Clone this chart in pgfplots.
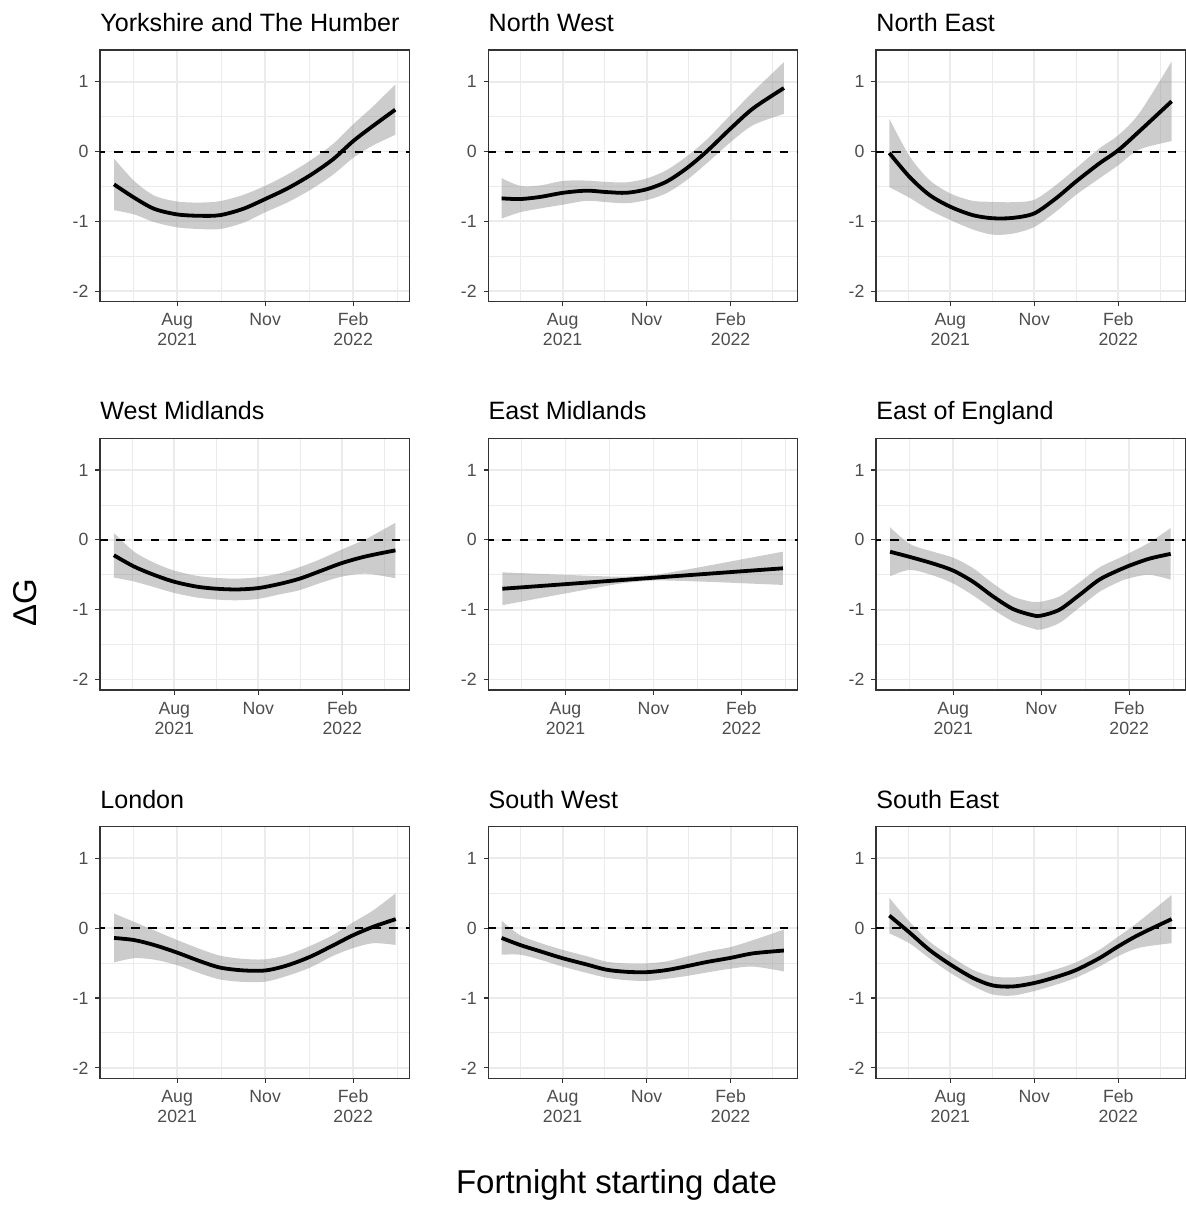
\documentclass[border=0pt]{standalone}
\usepackage{fontspec}
\setmainfont{Liberation Sans}
\usepackage{pgfplots}
\pgfplotsset{compat=1.18}
\usepackage{pgfplotstable}
\usepgfplotslibrary{fillbetween}

\definecolor{gridc}{HTML}{EBEBEB}
\definecolor{borderc}{HTML}{333333}
\definecolor{tickc}{HTML}{4D4D4D}
\definecolor{ribbonc}{HTML}{999999}

% x = days since 1 Aug 2021
\pgfplotstableread{
x y lo hi
-66 -0.47 -0.84 -0.10
-45 -0.66 -0.90 -0.42
-24 -0.82 -1.01 -0.63
0 -0.90 -1.085 -0.715
24 -0.92 -1.11 -0.73
45 -0.91 -1.11 -0.71
69 -0.82 -1.02 -0.62
92 -0.68 -0.87 -0.49
115 -0.53 -0.73 -0.33
139 -0.34 -0.55 -0.13
163 -0.11 -0.33 0.11
184 0.15 -0.09 0.39
205 0.37 0.09 0.65
228 0.60 0.24 0.96
}\tYork
\pgfplotstableread{
x y lo hi
-66.8 -0.67 -0.96 -0.38
-46.7 -0.68 -0.87 -0.49
-24.8 -0.65 -0.815 -0.485
0.7 -0.59 -0.76 -0.42
26.3 -0.56 -0.705 -0.415
48.2 -0.58 -0.725 -0.435
70.1 -0.59 -0.74 -0.44
92 -0.54 -0.695 -0.385
113.9 -0.43 -0.595 -0.265
135.8 -0.24 -0.41 -0.07
157.7 0.00 -0.17 0.17
184 0.33 0.135 0.525
208.8 0.62 0.38 0.86
242.4 0.91 0.54 1.28
}\tNW
\pgfplotstableread{
x y lo hi
-66.8 -0.02 -0.51 0.47
-44.9 -0.36 -0.66 -0.06
-23 -0.62 -0.835 -0.405
0 -0.79 -0.98 -0.60
24.5 -0.91 -1.115 -0.705
46.4 -0.955 -1.19 -0.72
68.3 -0.95 -1.175 -0.725
92 -0.885 -1.08 -0.69
115.7 -0.67 -0.86 -0.48
137.6 -0.43 -0.62 -0.24
163.2 -0.17 -0.385 0.045
184 0.02 -0.195 0.235
207 0.29 0.03 0.55
242.4 0.72 0.15 1.29
}\tNE
\pgfplotstableread{
x y lo hi
-66.2 -0.22 -0.54 0.10
-44.4 -0.38 -0.595 -0.165
-22.5 -0.50 -0.675 -0.325
0 -0.60 -0.76 -0.44
24.7 -0.67 -0.825 -0.515
46.5 -0.70 -0.855 -0.545
69 -0.71 -0.865 -0.555
92 -0.69 -0.845 -0.535
115.6 -0.63 -0.78 -0.48
137.5 -0.555 -0.72 -0.39
159.3 -0.45 -0.62 -0.28
184 -0.33 -0.525 -0.135
210.2 -0.235 -0.485 0.015
242.2 -0.15 -0.55 0.245
}\tWM
\pgfplotstableread{
x y lo hi
-66 -0.70 -0.935 -0.465
-30 -0.664 -0.843 -0.485
0 -0.634 -0.767 -0.501
30 -0.604 -0.691 -0.517
60 -0.574 -0.621 -0.527
92 -0.542 -0.582 -0.502
120 -0.514 -0.587 -0.441
150 -0.484 -0.601 -0.367
180 -0.454 -0.618 -0.290
227.4 -0.407 -0.645 -0.169
}\tEM
\pgfplotstableread{
x y lo hi
-66 -0.17 -0.52 0.18
-45.1 -0.245 -0.43 -0.06
-20.8 -0.34 -0.51 -0.17
0 -0.44 -0.625 -0.255
20.8 -0.60 -0.795 -0.405
41.7 -0.81 -0.995 -0.625
62.5 -0.99 -1.17 -0.81
83.3 -1.08 -1.27 -0.89
92 -1.085 -1.285 -0.885
111.1 -1.00 -1.19 -0.81
131.9 -0.79 -0.97 -0.61
152.8 -0.57 -0.745 -0.395
173.6 -0.43 -0.60 -0.26
184 -0.37 -0.55 -0.19
204.9 -0.27 -0.50 -0.04
227.4 -0.20 -0.57 0.17
}\tEE
\pgfplotstableread{
x y lo hi
-66 -0.14 -0.49 0.21
-45.1 -0.17 -0.43 0.09
-24.3 -0.24 -0.45 -0.03
0 -0.35 -0.53 -0.17
24.3 -0.475 -0.65 -0.30
45.1 -0.565 -0.735 -0.395
69.4 -0.605 -0.77 -0.44
92.4 -0.605 -0.765 -0.445
114.6 -0.535 -0.685 -0.385
138.9 -0.41 -0.565 -0.255
163.2 -0.245 -0.395 -0.095
184 -0.10 -0.285 0.085
204.9 0.02 -0.215 0.255
228.5 0.13 -0.24 0.50
}\tLon
\pgfplotstableread{
x y lo hi
-66.8 -0.14 -0.38 0.105
-46.7 -0.24 -0.38 -0.10
-24.8 -0.33 -0.45 -0.21
0 -0.43 -0.55 -0.31
26.3 -0.52 -0.64 -0.40
48.2 -0.595 -0.71 -0.48
70.1 -0.625 -0.745 -0.505
92 -0.63 -0.755 -0.505
113.9 -0.60 -0.725 -0.475
135.8 -0.545 -0.685 -0.405
157.7 -0.485 -0.635 -0.335
184 -0.425 -0.58 -0.27
208.8 -0.36 -0.55 -0.17
242.4 -0.32 -0.62 -0.02
}\tSW
\pgfplotstableread{
x y lo hi
-66.8 0.18 -0.075 0.435
-44.9 -0.06 -0.215 0.095
-23 -0.31 -0.43 -0.19
0 -0.52 -0.64 -0.40
24.5 -0.71 -0.825 -0.595
46.4 -0.82 -0.95 -0.69
68.3 -0.835 -0.965 -0.705
92 -0.785 -0.90 -0.67
115.7 -0.70 -0.81 -0.59
137.6 -0.60 -0.71 -0.49
163.2 -0.43 -0.55 -0.31
184 -0.26 -0.40 -0.12
207 -0.09 -0.28 0.10
242.4 0.13 -0.215 0.475
}\tSE

\pgfplotsset{
  panel/.style={
    scale only axis, width=154.65pt, height=125.85pt,
    anchor=south west,
    ymin=-2.15, ymax=1.455,
    ytick={-2,-1,0,1}, yticklabels={-2,-1,0,1},
    minor ytick={-1.5,-0.5,0.5},
    xtick={0,92,184},
    xticklabels={{Aug\vphantom{b}\\2021},{Nov\vphantom{b}},{Feb\vphantom{A}\\2022}},
    minor xtick={-46,46,138,230},
    grid=both,
    major grid style={gridc, line width=0.9pt},
    minor grid style={gridc, line width=0.45pt},
    axis line style={borderc, line width=0.6pt},
    tick align=outside,
    major tick length=2.3pt,
    minor tick length=0pt,
    every tick/.style={borderc, line width=0.6pt},
    xtick pos=left, ytick pos=left,
    tick label style={font=\fontsize{8.85}{10}\selectfont, text=tickc},
    xticklabel style={align=center, inner sep=0pt, yshift=-3.2pt},
    yticklabel style={inner sep=0pt, xshift=-3.3pt},
    every axis title shift=0pt,
    title style={at={(0,1)}, anchor=base west, inner sep=0pt, yshift=9.2pt,
      font=\fontsize{12.55}{14}\selectfont},
  },
  rangeA/.style={xmin=-80.7, xmax=242.7},
  rangeB/.style={xmin=-81.4, xmax=257.4},
}

\newcommand{\panelplots}[1]{%
  \addplot[draw=none, name path=hi, smooth, forget plot] table[x=x,y=hi]{#1};
  \addplot[draw=none, name path=lo, smooth, forget plot] table[x=x,y=lo]{#1};
  \addplot[fill=ribbonc, fill opacity=0.5, draw=none, forget plot] fill between[of=hi and lo];
  \addplot[black, line width=1pt, dash pattern=on 4.3pt off 4.3pt, forget plot] coordinates {(-120,0) (300,0)};
  \addplot[black, line width=1.9pt, smooth] table[x=x,y=y]{#1};
}

\begin{document}
\begin{tikzpicture}
% row 1
\begin{axis}[panel, rangeA, at={(50pt,451.65pt)}, title={Yorkshire and The Humber}]
\panelplots{\tYork}
\end{axis}
\begin{axis}[panel, rangeB, at={(244.15pt,451.65pt)}, title={North West}]
\panelplots{\tNW}
\end{axis}
\begin{axis}[panel, rangeB, at={(438pt,451.65pt)}, title={North East}]
\panelplots{\tNE}
\end{axis}
% row 2
\begin{axis}[panel, rangeB, at={(50pt,257.5pt)}, title={West Midlands}]
\panelplots{\tWM}
\end{axis}
\begin{axis}[panel, rangeA, at={(244.15pt,257.5pt)}, title={East Midlands}]
\panelplots{\tEM}
\end{axis}
\begin{axis}[panel, rangeA, at={(438pt,257.5pt)}, title={East of England}]
\panelplots{\tEE}
\end{axis}
% row 3
\begin{axis}[panel, rangeA, at={(50pt,63.35pt)}, title={London}]
\panelplots{\tLon}
\end{axis}
\begin{axis}[panel, rangeB, at={(244.15pt,63.35pt)}, title={South West}]
\panelplots{\tSW}
\end{axis}
\begin{axis}[panel, rangeB, at={(438pt,63.35pt)}, title={South East}]
\panelplots{\tSE}
\end{axis}
\node[rotate=90, anchor=base, font=\fontsize{16.5}{18}\selectfont] at (18pt,301pt) {ΔG};
\node[anchor=base, font=\fontsize{16.5}{18}\selectfont] at (308.25pt,5.8pt) {Fortnight starting date};
\pgfresetboundingbox
\useasboundingbox (0,0) rectangle (593pt,602.5pt);
\end{tikzpicture}
\end{document}
